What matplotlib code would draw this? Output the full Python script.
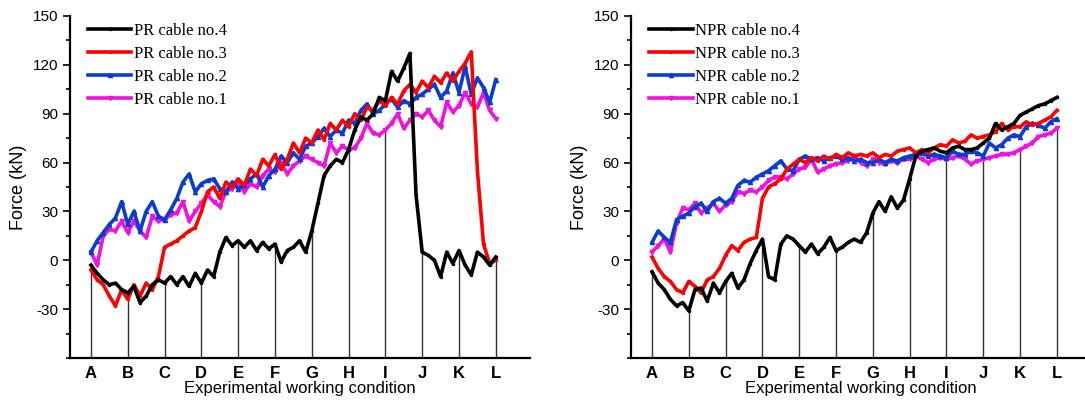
import matplotlib
matplotlib.use("Agg")
import matplotlib.pyplot as plt
import numpy as np
from matplotlib.ticker import MultipleLocator

# working conditions, 6 readings per interval
conditions = list("ABCDEFGHIJKL")

pr4 = [-3, -8, -12, -15, -14, -18, -20, -16, -26, -22, -15, -12, -14, -10, -15, -10, -16, -8,
       -14, -6, -10, 5, 14, 9, 12, 8, 12, 6, 11, 7, 10, -1, 6, 8, 12, 5,
       18, 35, 52, 58, 62, 60, 68, 80, 88, 86, 90, 100, 98, 116, 110, 118, 127, 40,
       5, 3, 0, -10, 5, -2, 6, -3, -9, 5, 2, -3, 2]
pr3 = [-6, -12, -15, -22, -28, -18, -24, -15, -22, -14, -18, -10, 8, 10, 12, 15, 18, 20,
       30, 42, 45, 38, 48, 45, 50, 46, 56, 52, 62, 58, 65, 56, 62, 72, 66, 75,
       72, 80, 74, 84, 80, 86, 82, 90, 86, 94, 92, 98, 95, 100, 96, 104, 108, 103,
       110, 106, 113, 109, 115, 110, 116, 121, 128, 55, 10, -2, 0]
pr2 = [5, 12, 17, 22, 26, 36, 22, 30, 18, 30, 36, 27, 25, 31, 38, 48, 53, 42,
       47, 49, 50, 44, 42, 48, 44, 46, 50, 53, 45, 52, 56, 64, 60, 66, 62, 70,
       72, 76, 81, 76, 80, 78, 86, 84, 92, 96, 90, 92, 96, 99, 94, 98, 96, 100,
       102, 105, 108, 100, 104, 115, 103, 119, 102, 112, 106, 97, 111]
pr1 = [5, -3, 15, 19, 18, 24, 17, 24, 18, 14, 27, 24, 25, 28, 29, 36, 24, 30,
       35, 40, 36, 33, 42, 44, 48, 42, 47, 45, 52, 56, 54, 60, 53, 58, 61, 64,
       62, 60, 58, 72, 66, 70, 68, 69, 75, 84, 78, 77, 80, 84, 90, 81, 86, 90,
       88, 92, 86, 82, 97, 91, 95, 103, 96, 94, 103, 92, 87]

npr4 = [-7, -14, -18, -24, -28, -26, -31, -18, -17, -25, -14, -20, -13, -8, -17, -12, -2, 6,
        13, -10, -12, 10, 15, 13, 9, 5, 10, 4, 8, 14, 6, 8, 11, 13, 11, 17,
        29, 36, 30, 39, 32, 37, 50, 64, 67, 68, 69, 67, 66, 69, 70, 68, 68, 69,
        72, 75, 84, 80, 82, 84, 89, 91, 93, 95, 96, 98, 100]
npr3 = [2, -5, -10, -13, -18, -20, -13, -16, -20, -12, -10, -5, 3, 9, 6, 11, 13, 14,
        38, 45, 47, 50, 56, 59, 62, 60, 63, 61, 64, 62, 65, 63, 66, 64, 65, 64,
        66, 63, 65, 64, 67, 68, 69, 66, 68, 66, 69, 71, 70, 74, 72, 73, 77, 75,
        76, 77, 79, 84, 80, 82, 82, 85, 83, 84, 86, 88, 92]
npr2 = [11, 18, 14, 11, 25, 27, 29, 33, 35, 30, 36, 38, 35, 38, 46, 49, 48, 51,
        53, 55, 58, 61, 56, 55, 62, 64, 62, 63, 61, 63, 64, 62, 63, 61, 62, 60,
        60, 62, 60, 62, 61, 63, 64, 65, 66, 64, 65, 64, 63, 67, 65, 65, 67, 66,
        64, 72, 69, 71, 75, 77, 76, 82, 84, 83, 81, 85, 87]
npr1 = [5, 9, 13, 5, 23, 32, 31, 35, 29, 32, 35, 30, 34, 36, 42, 41, 43, 42,
        45, 49, 51, 51, 50, 53, 56, 57, 62, 54, 56, 58, 59, 60, 61, 64, 60, 58,
        62, 60, 59, 61, 60, 62, 62, 64, 62, 60, 62, 63, 62, 63, 64, 62, 59, 61,
        62, 63, 64, 65, 65, 66, 68, 70, 72, 76, 77, 78, 81]

colors = ["black", "#ff0000", "#0a3ccf", "#f010e0"]
markers = [".", ".", "^", "v"]

plt.rcParams["font.family"] = ["Liberation Sans", "DejaVu Sans"]
plt.rcParams["axes.unicode_minus"] = False
fig = plt.figure(figsize=(10.85, 4.03), dpi=100)
ax1 = fig.add_axes([0.0645, 0.1117, 0.424, 0.8486])
ax2 = fig.add_axes([0.5816, 0.1117, 0.424, 0.8486])


def draw(ax, series, prefix):
    x = np.arange(len(series[0])) / 6
    n = len(conditions)
    # drop lines from the lowest curve down to the axis
    low = np.min(np.array(series), axis=0)[::6][:n]
    ax.vlines(np.arange(n), -60, low, color="#333333", lw=1.0, zorder=1)
    labels = [f"{prefix} cable no.{k}" for k in (4, 3, 2, 1)]
    for s, c, m, lab, z in zip(series, colors, markers, labels, (6, 5, 4, 3)):
        ax.plot(x, s, color=c, lw=2.6, marker=m, ms=3, label=lab, zorder=z)
    ax.set_xlim(-0.57, 11.93)
    ax.set_ylim(-60, 150)
    ax.set_xticks(np.arange(n))
    ax.set_xticklabels(conditions, fontweight="bold", fontsize=12)
    ax.tick_params(axis="x", length=0, pad=6)
    ax.yaxis.set_major_locator(MultipleLocator(30))
    ax.yaxis.set_minor_locator(MultipleLocator(15))
    ax.set_yticks([-30, 0, 30, 60, 90, 120, 150])
    ax.tick_params(axis="y", which="major", length=5, width=1.2, labelsize=11, direction="out")
    ax.tick_params(axis="y", which="minor", length=3, width=1.2, direction="out")
    for sp in ("top", "right"):
        ax.spines[sp].set_visible(False)
    for sp in ("left", "bottom"):
        ax.spines[sp].set_linewidth(1.6)
    ax.set_xlabel("Experimental working condition", fontsize=12, labelpad=0)
    ax.set_ylabel("Force (kN)", fontsize=13, labelpad=4)
    ax.legend(loc="upper left", frameon=False, handlelength=2.6, handletextpad=0.15,
              labelspacing=0.42, borderaxespad=0.0, bbox_to_anchor=(0.025, 1.0),
              prop={"family": "Liberation Serif", "size": 12})


draw(ax1, [pr4, pr3, pr2, pr1], "PR")
draw(ax2, [npr4, npr3, npr2, npr1], "NPR")

fig.savefig("out.png", dpi=100)
